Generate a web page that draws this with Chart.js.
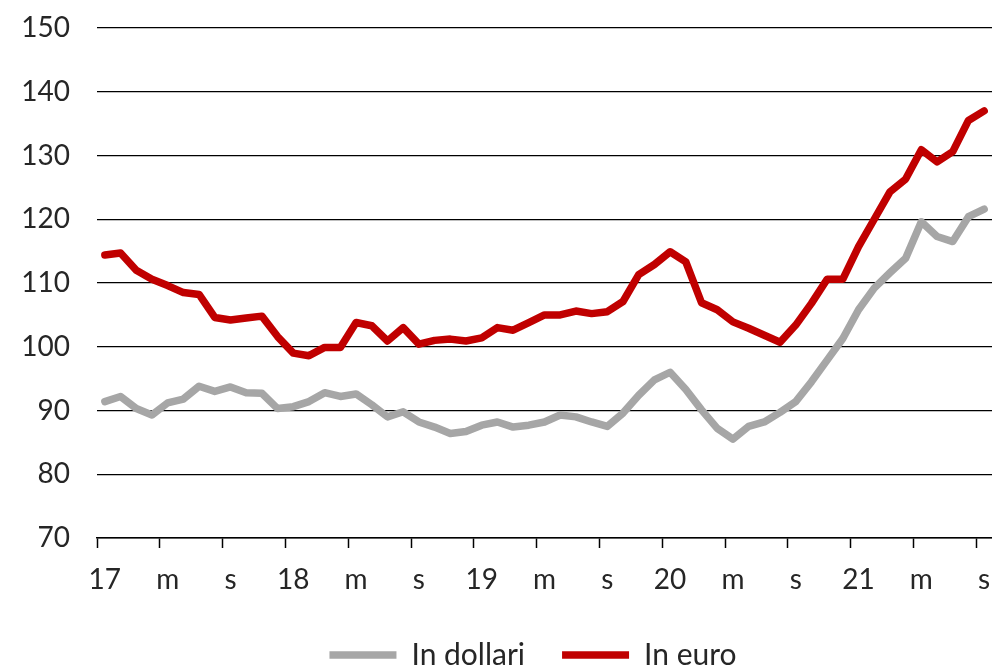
<!DOCTYPE html>
<html><head><meta charset="utf-8">
<script src="https://cdn.jsdelivr.net/npm/chart.js@4/dist/chart.umd.min.js"></script>
<style>html,body{margin:0;padding:0;background:#fff}#wrap{width:992px;height:668px;position:relative}</style>
</head><body><div id="wrap"><canvas id="c"></canvas></div>
<script>
const years = ['17','18','19','20','21'];
const monthNames = ['gen','feb','mar','apr','mag','giu','lug','ago','set','ott','nov','dic'];
const monthsInLastYear = 9;
const categories = [];
years.forEach((y, yi) => {
  const n = yi === years.length - 1 ? monthsInLastYear : 12;
  for (let m = 0; m < n; m++) categories.push(monthNames[m] + ' ' + y);
});
const tickLabels = ['17','m','s','18','m','s','19','m','s','20','m','s','21','m','s'];
const inDollari = [91.4,92.2,90.3,89.3,91.2,91.8,93.8,93.0,93.7,92.8,92.7,90.3,
  90.6,91.4,92.8,92.2,92.6,90.9,89.0,89.8,88.2,87.4,86.4,86.7,
  87.7,88.2,87.4,87.7,88.2,89.3,89.0,88.2,87.5,89.6,92.4,94.8,
  96.0,93.3,90.1,87.2,85.5,87.5,88.2,89.7,91.4,94.5,97.9,101.3,
  105.8,109.2,111.6,113.9,119.6,117.3,116.5,120.4,121.6];
const inEuro = [114.4,114.7,112.0,110.6,109.6,108.5,108.2,104.6,104.2,104.5,104.8,101.6,
  99.0,98.6,99.9,99.9,103.8,103.3,100.9,103.0,100.4,101.0,101.2,100.9,
  101.4,103.0,102.6,103.8,105.0,105.0,105.6,105.2,105.5,107.1,111.3,112.9,
  114.9,113.3,106.9,105.8,103.9,102.9,101.8,100.7,103.4,106.8,110.6,110.6,
  115.7,120.0,124.3,126.3,130.9,129.0,130.6,135.5,137.0];

const FONT = 'Lato, "Open Sans", sans-serif';
const TXT = '#262626';

const legendShift = {
  id: 'legendShift',
  afterLayout(chart) {
    const lg = chart.legend;
    if (lg) { lg.left += 37; lg.right += 37; }
  }
};

new Chart(document.getElementById('c'), {
  type: 'line',
  data: {
    labels: categories,
    datasets: [
      { label: 'In dollari', data: inDollari, borderColor: '#A6A6A6', backgroundColor: '#A6A6A6',
        borderWidth: 7.5, pointRadius: 0, tension: 0, borderJoinStyle: 'round', borderCapStyle: 'round' },
      { label: 'In euro', data: inEuro, borderColor: '#C00000', backgroundColor: '#C00000',
        borderWidth: 7.5, pointRadius: 0, tension: 0, borderJoinStyle: 'round', borderCapStyle: 'round' }
    ]
  },
  plugins: [legendShift],
  options: {
    responsive: true,
    maintainAspectRatio: false,
    animation: false,
    layout: { padding: { top: 28, left: 0, right: 0, bottom: -12 } },
    plugins: {
      tooltip: { enabled: false },
      legend: {
        position: 'bottom',
        labels: {
          usePointStyle: true,
          pointStyle: 'line',
          pointStyleWidth: 67,
          boxHeight: 8,
          padding: 37,
          color: TXT,
          font: { family: FONT, size: 30 }
        }
      }
    },
    scales: {
      x: {
        type: 'category',
        offset: true,
        grid: {
          offset: true,
          drawOnChartArea: false,
          drawTicks: true,
          tickLength: 10,
          tickWidth: 1.5,
          tickColor: ctx => (ctx.index % 4 === 0 ? '#000' : 'rgba(0,0,0,0)')
        },
        border: { display: true, color: '#000', width: 1.5 },
        ticks: {
          autoSkip: false,
          maxRotation: 0,
          minRotation: 0,
          padding: 15,
          color: TXT,
          font: { family: FONT, size: 28 },
          callback: (v, i) => (i % 4 === 0 ? tickLabels[i / 4] : '')
        },
        afterFit: s => { s.height = 65; s.paddingLeft = 0; s.paddingRight = 0; }
      },
      y: {
        min: 70,
        max: 150,
        grid: { color: '#000', lineWidth: 1.3, drawTicks: false },
        border: { display: false },
        ticks: {
          stepSize: 10,
          padding: 27,
          color: TXT,
          font: { family: FONT, size: 28 }
        },
        afterFit: s => { s.width = 97; s.paddingTop = 0; s.paddingBottom = 0; }
      }
    }
  }
});
</script></body></html>
